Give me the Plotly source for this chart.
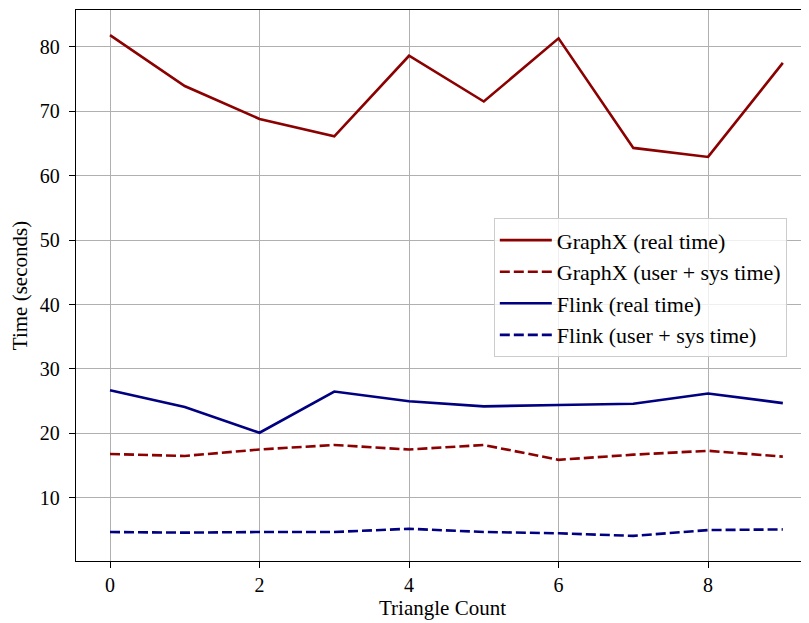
import plotly.graph_objects as go

x_vals = list(range(10))
graphx_real = [81.8, 73.9, 68.8, 66.1, 78.6, 71.5, 81.3, 64.3, 62.9, 77.5]
graphx_user_sys = [16.8, 16.5, 17.5, 18.2, 17.5, 18.2, 15.9, 16.7, 17.3, 16.4]
flink_real = [26.7, 24.1, 20.1, 26.5, 25.0, 24.2, 24.4, 24.6, 26.2, 24.7]
flink_user_sys = [4.7, 4.6, 4.7, 4.7, 5.2, 4.7, 4.5, 4.1, 5.0, 5.1]

series = [
    ("GraphX (real time)", graphx_real, "#8b0000", "solid"),
    ("GraphX (user + sys time)", graphx_user_sys, "#8b0000", "10px,4px"),
    ("Flink (real time)", flink_real, "#000080", "solid"),
    ("Flink (user + sys time)", flink_user_sys, "#000080", "10px,4px"),
]

font_family = "Liberation Serif, DejaVu Serif, serif"

fig = go.Figure()
for name, ys, color, dash in series:
    fig.add_trace(go.Scatter(
        x=x_vals, y=ys, mode="lines", name=name,
        line=dict(color=color, width=2.6, dash=dash),
    ))

# page body adds an 8px margin; figure is sized so the plot lands where the reference has it
fig.update_layout(
    width=801, height=615,
    margin=dict(l=68, r=0, t=2, b=62, autoexpand=False),
    paper_bgcolor="white", plot_bgcolor="white",
    font=dict(family=font_family, size=20, color="black"),
    showlegend=True,
    legend=dict(
        x=0.570, y=0.622, xanchor="left", yanchor="top",
        bgcolor="rgba(255,255,255,0.8)",
        bordercolor="#cccccc", borderwidth=1,
        font=dict(family=font_family, size=22, color="black"),
        tracegroupgap=0, itemwidth=52,
    ),
)

fig.update_xaxes(
    range=[-0.455, 9.35], automargin=False,
    tickmode="array", tickvals=[0, 2, 4, 6, 8], ticktext=["0", "2", "4", "6", "8"],
    showgrid=True, gridcolor="#b0b0b0", gridwidth=1,
    showline=True, linecolor="black", linewidth=1.4, mirror=True,
    ticks="outside", ticklen=6, tickcolor="black", tickwidth=1.2,
    tickfont=dict(size=20),
    zeroline=False,
    title=dict(text="Triangle Count", standoff=4, font=dict(size=21)),
)
fig.update_yaxes(
    range=[0.2, 85.7], automargin=False,
    tickmode="array", tickvals=[10, 20, 30, 40, 50, 60, 70, 80],
    showgrid=True, gridcolor="#b0b0b0", gridwidth=1,
    showline=True, linecolor="black", linewidth=1.4,
    ticks="outside", ticklen=6, tickcolor="black", tickwidth=1.2,
    tickfont=dict(size=20), ticklabelstandoff=5,
    zeroline=False,
    title=dict(text="Time (seconds)", standoff=6, font=dict(size=21)),
)

fig.write_html("out.html")
